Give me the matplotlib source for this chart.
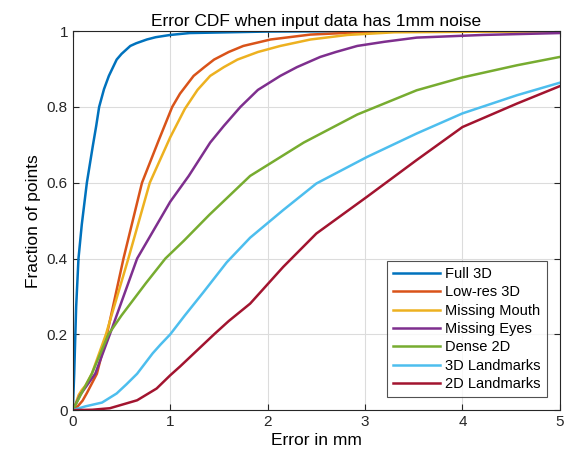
import matplotlib.pyplot as plt

plt.rcParams["font.family"] = ["Liberation Sans", "DejaVu Sans"]

# curvas (erro em mm, fração acumulada)
full3d_x = [0, 0.014, 0.034, 0.058, 0.092, 0.144, 0.205, 0.24, 0.27, 0.32, 0.37, 0.45, 0.5, 0.59, 0.65, 0.76, 0.85, 1.0, 1.2, 2, 3, 5]
full3d_y = [0, 0.096, 0.272, 0.4, 0.49, 0.6, 0.697, 0.75, 0.8, 0.847, 0.882, 0.925, 0.94, 0.961, 0.968, 0.978, 0.984, 0.99, 0.995, 0.999, 1.0, 1.0]

lowres_x = [0, 0.05, 0.1, 0.144, 0.247, 0.35, 0.52, 0.71, 0.88, 1.02, 1.1, 1.24, 1.35, 1.45, 1.6, 1.75, 2.03, 2.44, 2.95, 3.5, 5]
lowres_y = [0, 0.01, 0.025, 0.045, 0.096, 0.2, 0.4, 0.6, 0.711, 0.8, 0.835, 0.882, 0.905, 0.925, 0.945, 0.961, 0.978, 0.991, 0.997, 1, 1]

mouth_x = [0, 0.03, 0.06, 0.092, 0.13, 0.195, 0.34, 0.57, 0.79, 1.0, 1.15, 1.28, 1.41, 1.55, 1.69, 1.9, 2.13, 2.44, 2.82, 3.3, 5]
mouth_y = [0, 0.018, 0.04, 0.053, 0.065, 0.096, 0.2, 0.4, 0.6, 0.72, 0.795, 0.845, 0.882, 0.905, 0.925, 0.945, 0.961, 0.978, 0.99, 0.997, 1]

eyes_x = [0, 0.075, 0.23, 0.38, 0.66, 1.0, 1.19, 1.41, 1.55, 1.72, 1.9, 2.13, 2.3, 2.54, 2.7, 2.92, 3.2, 3.53, 4.21, 5]
eyes_y = [0, 0.04, 0.096, 0.2, 0.4, 0.55, 0.618, 0.706, 0.75, 0.8, 0.845, 0.882, 0.905, 0.932, 0.945, 0.961, 0.972, 0.983, 0.99, 0.995]

dense_x = [0, 0.08, 0.195, 0.366, 0.5, 0.75, 0.95, 1.14, 1.4, 1.82, 2.37, 2.92, 3.53, 4.0, 4.56, 5]
dense_y = [0, 0.04, 0.096, 0.2, 0.25, 0.335, 0.4, 0.447, 0.515, 0.618, 0.706, 0.78, 0.844, 0.878, 0.910, 0.932]

lm3d_x = [0, 0.13, 0.3, 0.45, 0.55, 0.66, 0.82, 0.9, 1.0, 1.15, 1.34, 1.58, 1.82, 2.16, 2.5, 3.02, 3.53, 4.0, 4.56, 5]
lm3d_y = [0, 0.01, 0.02, 0.044, 0.068, 0.096, 0.15, 0.173, 0.2, 0.25, 0.311, 0.39, 0.455, 0.528, 0.598, 0.668, 0.730, 0.783, 0.831, 0.864]

lm2d_x = [0, 0.2, 0.38, 0.66, 0.86, 1.0, 1.1, 1.24, 1.45, 1.6, 1.82, 2.16, 2.5, 3.02, 3.53, 4.0, 4.56, 5]
lm2d_y = [0, 0.001, 0.005, 0.026, 0.057, 0.092, 0.115, 0.149, 0.2, 0.235, 0.281, 0.378, 0.466, 0.563, 0.660, 0.747, 0.809, 0.855]

series = [
    ("Full 3D", full3d_x, full3d_y, "#0072BD"),
    ("Low-res 3D", lowres_x, lowres_y, "#D95319"),
    ("Missing Mouth", mouth_x, mouth_y, "#EDB120"),
    ("Missing Eyes", eyes_x, eyes_y, "#7E2F8E"),
    ("Dense 2D", dense_x, dense_y, "#77AC30"),
    ("3D Landmarks", lm3d_x, lm3d_y, "#4DBEEE"),
    ("2D Landmarks", lm2d_x, lm2d_y, "#A2142F"),
]

fig = plt.figure(figsize=(5.69, 4.65), dpi=100)
ax = fig.add_axes([0.128, 0.118, 0.856, 0.815])

for nome, xs, ys, cor in series:
    ax.plot(xs, ys, color=cor, linewidth=1.8, label=nome, solid_joinstyle="round")

ax.set_xlim(0, 5)
ax.set_ylim(0, 1)
ax.set_xticks([0, 1, 2, 3, 4, 5])
ax.set_yticks([0, 0.2, 0.4, 0.6, 0.8, 1])
ax.set_yticklabels(["0", "0.2", "0.4", "0.6", "0.8", "1"])
ax.grid(True, color="#dcdcdc", linewidth=0.8)
ax.set_axisbelow(True)
for lado in ax.spines.values():
    lado.set_color("#262626")
    lado.set_linewidth(0.8)
ax.tick_params(direction="in", labelsize=11, colors="#262626", top=True, right=True,
               labeltop=False, labelright=False, length=4)

ax.set_title("Error CDF when input data has 1mm noise", fontsize=12.5, pad=4)
ax.set_xlabel("Error in mm", fontsize=12.5, labelpad=3)
ax.set_ylabel("Fraction of points", fontsize=12.5, labelpad=4)

leg = ax.legend(loc="lower right", fontsize=10.5, frameon=True, fancybox=False,
                edgecolor="#262626", handlelength=3.2, labelspacing=0.3,
                borderaxespad=0.9, handletextpad=0.4)
leg.get_frame().set_linewidth(0.8)

fig.savefig("out.png", dpi=100)
